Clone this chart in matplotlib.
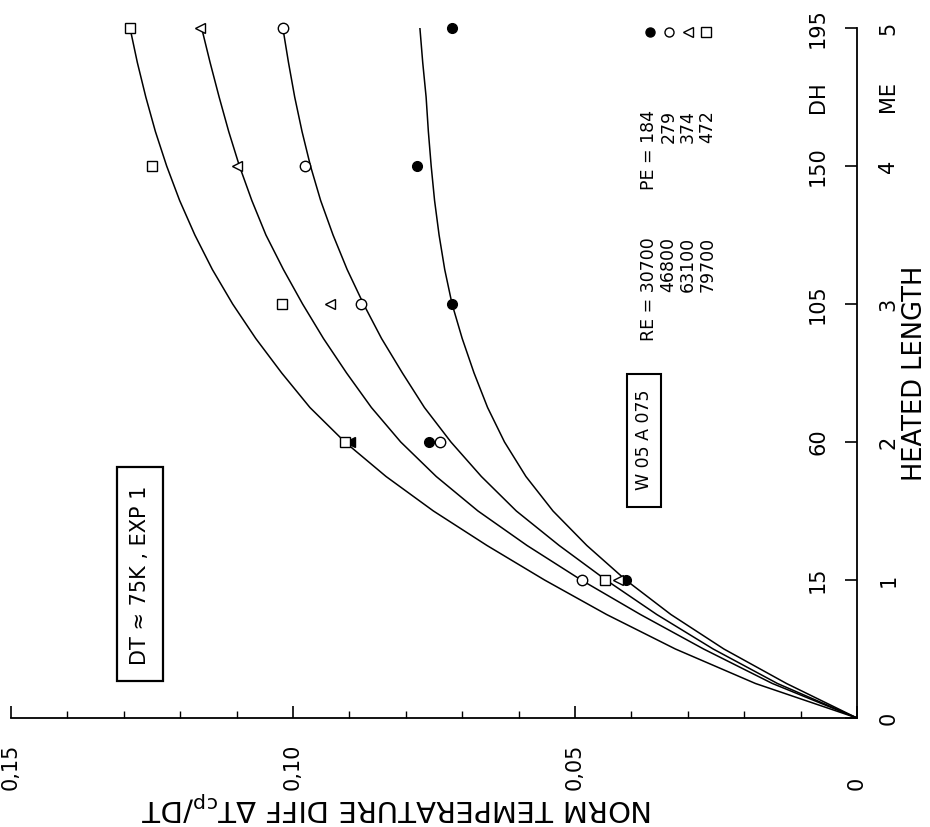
import matplotlib
matplotlib.use("Agg")
import matplotlib.pyplot as plt
from matplotlib.lines import Line2D
from matplotlib.patches import Rectangle
from matplotlib.ticker import MultipleLocator
from matplotlib.transforms import blended_transform_factory

plt.rcParams['font.family'] = ['DejaVu Sans']

# heated length axis: station index (ME) and the DH value printed next to it
me_ticks = [0, 1, 2, 3, 4, 5]
me_labels = ['0', '1', '2', '3', '4', '5']
dh_labels = ['', '15', '60', '105', '150', '195']

# normalised temperature difference axis
temp_ticks = [0, 0.05, 0.10, 0.15]
temp_labels = ['0', '0,05', '0,10', '0,15']

# measured points, one series per Reynolds number (stations 1..5)
stations = [1, 2, 3, 4, 5]
re_30700 = [0.0410, 0.0759, 0.0718, 0.0780, 0.0718]
re_46800 = [0.0488, 0.0739, 0.0879, 0.0979, 0.1018]
re_63100 = [0.0424, 0.0899, 0.0934, 0.1099, 0.1165]
re_63100_filled = [False, True, False, False, False]
re_79700 = [0.0447, 0.0908, 0.1020, 0.1250, 0.1289]

# fitted curves
curve_me = [0, 0.25, 0.5, 0.75, 1.0, 1.25, 1.5, 1.75, 2.0, 2.25, 2.5,
            2.75, 3.0, 3.25, 3.5, 3.75, 4.0, 4.25, 4.5, 4.75, 5.0]
curve_30700 = [0, 0.0125, 0.0236, 0.0330, 0.0410, 0.0479, 0.0539, 0.0587, 0.0625, 0.0655, 0.0679,
               0.0700, 0.0718, 0.0731, 0.0741, 0.0749, 0.0755, 0.0760, 0.0764, 0.0770, 0.0775]
curve_46800 = [0, 0.0141, 0.0255, 0.0355, 0.0445, 0.0528, 0.0604, 0.0666, 0.0720, 0.0767, 0.0806,
               0.0843, 0.0875, 0.0904, 0.0929, 0.0951, 0.0969, 0.0984, 0.0997, 0.1008, 0.1018]
curve_63100 = [0, 0.0150, 0.0272, 0.0384, 0.0489, 0.0585, 0.0672, 0.0746, 0.0809, 0.0861, 0.0905,
               0.0946, 0.0983, 0.1017, 0.1048, 0.1073, 0.1095, 0.1114, 0.1131, 0.1147, 0.1162]
curve_79700 = [0, 0.0180, 0.0322, 0.0444, 0.0554, 0.0656, 0.0751, 0.0835, 0.0908, 0.0970, 0.1020,
               0.1066, 0.1107, 0.1143, 0.1174, 0.1201, 0.1224, 0.1244, 0.1261, 0.1276, 0.1289]

re_values = ['30700', '46800', '63100', '79700']
pe_values = ['184', '279', '374', '472']

W, H = 930, 827


def fx(px):
    return px / W


def fy(py):
    return 1 - py / H


fig = plt.figure(figsize=(9.3, 8.27), dpi=100)
ax = fig.add_axes([fx(11), fy(718), 846 / W, 690 / H])
ax.set_xlim(0.15, 0)
ax.set_ylim(0, 5)

for side in ['top', 'left']:
    ax.spines[side].set_visible(False)
for side in ['bottom', 'right']:
    ax.spines[side].set_linewidth(1.3)

ax.set_xticks(temp_ticks)
ax.xaxis.set_minor_locator(MultipleLocator(0.01))
ax.set_yticks(me_ticks)
ax.tick_params(axis='x', which='major', direction='in', length=9, width=1.2, labelbottom=False)
ax.tick_params(axis='x', which='minor', direction='in', length=5, width=1.0)
ax.tick_params(axis='y', which='major', direction='in', length=9, width=1.2,
               left=False, right=True, labelleft=False, labelright=False)

xtrans = blended_transform_factory(ax.transData, ax.transAxes)
ytrans = blended_transform_factory(ax.transAxes, ax.transData)

for t, lab in zip(temp_ticks, temp_labels):
    ax.text(t, -0.104, lab, transform=xtrans, rotation=90, ha='center', va='bottom', fontsize=15)

for m, dh, me in zip(me_ticks, dh_labels, me_labels):
    ax.text(0.954, m, dh, transform=ytrans, rotation=90, ha='center', va='center', fontsize=15)
    ax.text(1.037, m, me, transform=ytrans, rotation=90, ha='center', va='center', fontsize=15)
ax.text(0.954, 4.5, 'DH', transform=ytrans, rotation=90, ha='center', va='center', fontsize=15)
ax.text(1.037, 4.5, 'ME', transform=ytrans, rotation=90, ha='center', va='center', fontsize=15)
ax.text(1.068, 2.5, 'HEATED LENGTH', transform=ytrans, rotation=90, ha='center', va='center', fontsize=18.5)

fig.text(fx(397), fy(806), r'NORM TEMPERATURE DIFF $\Delta\mathrm{T}_{\mathrm{cp}}$/DT',
         rotation=180, ha='center', va='center', fontsize=21)

# curves
for vals in [curve_30700, curve_46800, curve_63100, curve_79700]:
    ax.plot(vals, curve_me, color='black', lw=1.1, solid_joinstyle='round')

# measured points
ax.plot(re_30700, stations, ls='none', marker='o', ms=7, mfc='black', mec='black', clip_on=False)
ax.plot(re_46800, stations, ls='none', marker='o', ms=7.5, mfc='white', mec='black', mew=1.0, clip_on=False)
for v, s, filled in zip(re_63100, stations, re_63100_filled):
    ax.plot(v, s, ls='none', marker='<', ms=7.5, mfc='black' if filled else 'white',
            mec='black', mew=1.0, clip_on=False)
ax.plot(re_79700, stations, ls='none', marker='s', ms=7, mfc='white', mec='black', mew=1.0, clip_on=False)

# annotation boxes
fig.add_artist(Rectangle((fx(117), fy(681)), 46 / W, 214 / H, transform=fig.transFigure,
                         fill=False, ec='black', lw=1.6))
fig.text(fx(140), fy(575), 'DT \u2248 75K , EXP 1', rotation=90, ha='center', va='center', fontsize=15)

fig.add_artist(Rectangle((fx(627), fy(507)), 34 / W, 133 / H, transform=fig.transFigure,
                         fill=False, ec='black', lw=1.5))
fig.text(fx(644), fy(440), 'W 05 A 075', rotation=90, ha='center', va='center', fontsize=12.5)

# legend block
fig.text(fx(640), fy(237), 'RE = ' + '\n'.join(re_values), rotation=90, ha='left', va='top',
         multialignment='right', fontsize=12.5, linespacing=1.1)
fig.text(fx(640), fy(110), 'PE = ' + '\n'.join(pe_values), rotation=90, ha='left', va='top',
         multialignment='right', fontsize=12.5, linespacing=1.1)

legend_marks = [('o', 'black'), ('o', 'white'), ('<', 'white'), ('s', 'white')]
for px, (mk, fc) in zip([650, 669, 688, 706], legend_marks):
    fig.add_artist(Line2D([fx(px)], [fy(32)], marker=mk, ms=6.5, mfc=fc, mec='black', mew=1.0,
                          ls='none', transform=fig.transFigure))

fig.savefig('out.png', dpi=100)
